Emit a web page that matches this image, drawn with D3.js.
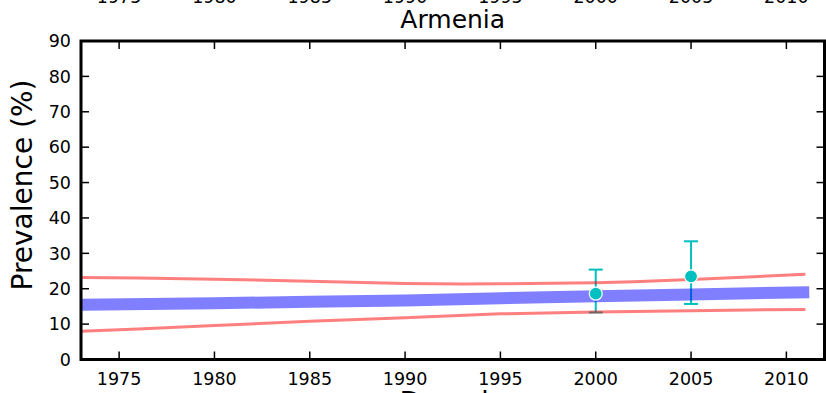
<!DOCTYPE html>
<html><head><meta charset="utf-8">
<script src="https://cdn.jsdelivr.net/npm/d3@7"></script>
<style>body{margin:0;background:#fff}svg{display:block}text{font-family:"DejaVu Sans",sans-serif}</style>
</head><body><div id="chart"></div>
<script>
const title = "Armenia";
const xTicks = [1975, 1980, 1985, 1990, 1995, 2000, 2005, 2010];
const yTicks = [0, 10, 20, 30, 40, 50, 60, 70, 80, 90];
const meanYears = [1973, 1980, 1985, 1990, 1995, 2000, 2005, 2011.2];
const meanVals = [15.5, 15.9, 16.3, 16.7, 17.3, 17.9, 18.4, 19.0];
const upperYears = [1973, 1976, 1980, 1985, 1990, 1993, 1995, 2000, 2002, 2005, 2008, 2011];
const upperVals = [23.2, 23.0, 22.7, 22.1, 21.5, 21.3, 21.4, 21.7, 22.0, 22.6, 23.3, 24.1];
const lowerYears = [1973, 1976, 1980, 1985, 1990, 1995, 2000, 2005, 2008, 2011];
const lowerVals = [8.0, 8.6, 9.6, 10.8, 11.8, 12.9, 13.4, 13.8, 14.0, 14.1];
const obsYears = [2000, 2005];
const obsVals = [18.6, 23.5];
const obsLow = [13.3, 15.7];
const obsHigh = [25.4, 33.4];

const W = 826, H = 393;
const svg = d3.select("#chart").append("svg").attr("width", W).attr("height", H);
const x = d3.scaleLinear().domain([1973, 2012]).range([81, 824.5]);
const y = d3.scaleLinear().domain([0, 90]).range([359.5, 41]);

// tick labels of the subplot above, mostly outside the picture
svg.append("g").selectAll("text").data(xTicks).join("text")
  .attr("x", d => x(d)).attr("y", 2.5).attr("text-anchor", "middle")
  .attr("font-size", 17.5).text(d => d);

svg.append("text").attr("x", (81 + 824.5) / 2).attr("y", 28).attr("text-anchor", "middle")
  .attr("font-size", 25).text(title);

const line = (xs, vs) => d3.line().x((d, i) => x(xs[i])).y(d => y(d))(vs);

// error bars
const eb = svg.append("g").attr("stroke", "#00bfbf").attr("stroke-width", 2);
obsYears.forEach((yr, i) => {
  eb.append("line").attr("x1", x(yr)).attr("x2", x(yr)).attr("y1", y(obsLow[i])).attr("y2", y(obsHigh[i]));
  eb.append("line").attr("x1", x(yr) - 7).attr("x2", x(yr) + 7).attr("y1", y(obsLow[i])).attr("y2", y(obsLow[i]));
  eb.append("line").attr("x1", x(yr) - 7).attr("x2", x(yr) + 7).attr("y1", y(obsHigh[i])).attr("y2", y(obsHigh[i]));
});

svg.append("path").attr("d", line(upperYears, upperVals)).attr("fill", "none")
  .attr("stroke", "red").attr("stroke-opacity", 0.5).attr("stroke-width", 3);
svg.append("path").attr("d", line(lowerYears, lowerVals)).attr("fill", "none")
  .attr("stroke", "red").attr("stroke-opacity", 0.5).attr("stroke-width", 3);
svg.append("path").attr("d", line(meanYears, meanVals)).attr("fill", "none")
  .attr("stroke", "blue").attr("stroke-opacity", 0.5).attr("stroke-width", 12);

svg.append("g").selectAll("circle").data(obsVals).join("circle")
  .attr("cx", (d, i) => x(obsYears[i])).attr("cy", d => y(d)).attr("r", 6.5)
  .attr("fill", "#00bfbf").attr("stroke", "#fff").attr("stroke-width", 1.2);

// ticks (inward) on all sides
const tk = svg.append("g").attr("stroke", "#000").attr("stroke-width", 1.5);
xTicks.forEach(t => {
  tk.append("line").attr("x1", x(t)).attr("x2", x(t)).attr("y1", 359.5).attr("y2", 351.5);
  tk.append("line").attr("x1", x(t)).attr("x2", x(t)).attr("y1", 41).attr("y2", 49);
});
yTicks.forEach(t => {
  tk.append("line").attr("x1", 81).attr("x2", 89).attr("y1", y(t)).attr("y2", y(t));
  tk.append("line").attr("x1", 824.5).attr("x2", 816.5).attr("y1", y(t)).attr("y2", y(t));
});

svg.append("rect").attr("x", 81).attr("y", 41).attr("width", 824.5 - 81).attr("height", 359.5 - 41)
  .attr("fill", "none").attr("stroke", "#000").attr("stroke-width", 3);

svg.append("g").selectAll("text").data(yTicks).join("text")
  .attr("x", 71).attr("y", d => y(d) + 6.3).attr("text-anchor", "end")
  .attr("font-size", 17.5).text(d => d);
svg.append("g").selectAll("text").data(xTicks).join("text")
  .attr("x", d => x(d)).attr("y", 384.6).attr("text-anchor", "middle")
  .attr("font-size", 17.5).text(d => d);

svg.append("text").attr("transform", "translate(32,185) rotate(-90)").attr("text-anchor", "middle")
  .attr("font-size", 28).text("Prevalence (%)");
svg.append("text").attr("x", (81 + 824.5) / 2).attr("y", 412).attr("text-anchor", "middle")
  .attr("font-size", 28).text("Decade");
</script></body></html>
